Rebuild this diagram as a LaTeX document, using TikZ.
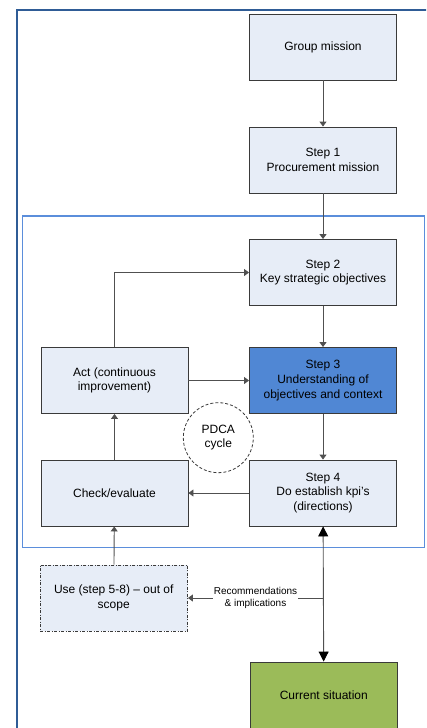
\documentclass[tikz,border=0pt]{standalone}
\usepackage{fontspec}
\setmainfont{Liberation Sans}
\usetikzlibrary{arrows.meta}
\definecolor{boxfill}{HTML}{E7EDF7}
\definecolor{stepblue}{HTML}{5087D4}
\definecolor{stepgreen}{HTML}{9BBB59}
\definecolor{outerblue}{HTML}{2F5C96}
\definecolor{innerblue}{HTML}{5B8EDB}
\definecolor{edgegray}{HTML}{3A3A3A}
\definecolor{linegray}{HTML}{505050}
\begin{document}
\begin{tikzpicture}[x=1pt,y=-1pt,
  stepbox/.style={draw=edgegray,line width=0.9pt,fill=boxfill,minimum width=147pt,minimum height=66pt,
    inner sep=0pt,align=center,font=\fontsize{12}{14.7}\selectfont},
  flow/.style={draw=linegray,line width=0.9pt,-{Triangle[length=5pt,width=7pt]}},
  bigflow/.style={draw=linegray,line width=0.9pt,{Triangle[length=10pt,width=10pt,black]}-{Triangle[length=10pt,width=10pt,black]}}]
\useasboundingbox (0,0) rectangle (426,728);
\clip (0,0) rectangle (426,728);
\fill[white] (0,0) rectangle (426,728);
% frames
\draw[outerblue,line width=2.5pt] (17,10) rectangle (450,760);
\draw[innerblue,line width=1.5pt] (22.5,216) rectangle (424.5,547.5);
% boxes
\node[stepbox] (group) at (323,47) {Group mission};
\node[stepbox] (s1) at (323,160) {Step 1\\Procurement mission};
\node[stepbox] (s2) at (323,272.5) {Step 2\\Key strategic objectives};
\node[stepbox,fill=stepblue] (s3) at (323,380.5) {Step 3\\Understanding of\\objectives and context};
\node[stepbox] (s4) at (323,493) {Step 4\\Do establish kpi's\\(directions)};
\node[stepbox] (act) at (114.5,380.5) {Act (continuous\\improvement)};
\node[stepbox] (check) at (114.5,493) {Check/evaluate};
\node[stepbox,dash pattern=on 3pt off 1.5pt on 1pt off 1.5pt,minimum width=147.5pt] (use) at (113.75,598) {Use (step 5-8) -- out of\\scope};
\node[stepbox,fill=stepgreen] (cur) at (323.8,695) {Current situation};
\node[draw=edgegray,line width=0.8pt,dash pattern=on 3pt off 2pt,circle,minimum size=70pt,inner sep=0pt,
  align=center,font=\fontsize{12}{14.7}\selectfont] (pdca) at (218.3,437.7) {PDCA\\cycle};
% connectors
\draw[flow] (group) -- (s1);
\draw[flow] (s1) -- (s2);
\draw[flow] (s2) -- (s3);
\draw[flow] (s3) -- (s4);
\draw[flow] (s4) -- (check);
\draw[flow] (check) -- (act);
\draw[flow] (act) -- (s3);
\draw[flow] (act.north) |- (s2.west);
\draw[flow] (use) -- (check);
\draw[bigflow] (s4) -- (cur);
\coordinate (split) at (323,598);
\draw[flow] (split) -- node[fill=white,inner sep=1pt,align=center,font=\fontsize{10}{11.7}\selectfont]
  {Recommendations\\\& implications} (use.east);
\end{tikzpicture}
\end{document}
